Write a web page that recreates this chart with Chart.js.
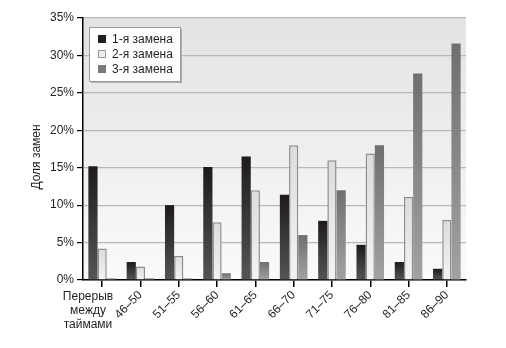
<!DOCTYPE html>
<html>
<head>
<meta charset="utf-8">
<script src="https://cdn.jsdelivr.net/npm/chart.js@4"></script>
<style>
  html, body { margin: 0; padding: 0; background: #fff; }
  #wrap { width: 506px; height: 348px; }
</style>
</head>
<body>
<div id="wrap"><canvas id="subsChart" width="506" height="348"></canvas></div>
<script>
const categories = ['Перерыв между таймами', '46–50', '51–55', '56–60', '61–65', '66–70', '71–75', '76–80', '81–85', '86–90'];
const firstSub  = [15.2, 2.4, 10.0, 15.1, 16.5, 11.4, 7.9, 4.7, 2.4, 1.5];
const secondSub = [4.2, 1.8, 3.2, 7.7, 12.0, 18.0, 16.0, 16.9, 11.1, 8.0];
const thirdSub  = [0.2, 0.2, 0.2, 0.9, 2.4, 6.0, 12.0, 18.0, 27.6, 31.6];
const seriesNames = ['1-я замена', '2-я замена', '3-я замена'];
const yTicks = [0, 5, 10, 15, 20, 25, 30, 35];

const FONT = 'Liberation Sans, Arial, sans-serif';
const TEXT = '#231f20';

function barFill(top, bottom) {
    return function (ctx) {
        const chart = ctx.chart;
        const y = chart.scales.y;
        if (ctx.type !== 'data' || !y || !chart.chartArea) return top;
        const y0 = y.getPixelForValue(ctx.raw);
        const y1 = y.getPixelForValue(0);
        if (y1 - y0 < 1) return bottom;
        const g = chart.ctx.createLinearGradient(0, y0, 0, y1);
        g.addColorStop(0, top);
        g.addColorStop(1, bottom);
        return g;
    };
}

const decor = {
    id: 'decor',
    beforeDraw(chart) {
        const { ctx, chartArea: a } = chart;
        const g = ctx.createLinearGradient(0, a.top, 0, a.bottom);
        g.addColorStop(0, '#e3e3e5');
        g.addColorStop(1, '#fafafa');
        ctx.save();
        ctx.fillStyle = g;
        ctx.fillRect(a.left, a.top, a.right - a.left, a.bottom - a.top);
        ctx.restore();
    },
    afterDraw(chart) {
        const { ctx } = chart;
        ctx.save();
        ctx.fillStyle = TEXT;
        ctx.font = '12px ' + FONT;
        ctx.textAlign = 'center';
        ctx.textBaseline = 'middle';
        // first category label, horizontal and split over three lines
        ['Перерыв', 'между', 'таймами'].forEach((s, i) => ctx.fillText(s, 88, 297 + i * 14));

        // y axis title
        ctx.save();
        ctx.translate(37, 157);
        ctx.rotate(-Math.PI / 2);
        ctx.fillText('Доля замен', 0, 0);
        ctx.restore();

        // legend box inside the plot
        const bx = 89, by = 27, bw = 91, bh = 54;
        ctx.fillStyle = '#b0b0b0';
        ctx.fillRect(bx + 2, by + 2, bw, bh);
        ctx.fillStyle = '#fff';
        ctx.fillRect(bx, by, bw, bh);
        ctx.strokeStyle = '#9a9a9a';
        ctx.lineWidth = 1;
        ctx.strokeRect(bx + 0.5, by + 0.5, bw, bh);
        const swatch = ['#231f20', '#eeeeee', '#7a7a7a'];
        ctx.textAlign = 'left';
        seriesNames.forEach((name, i) => {
            const cy = by + 12 + i * 15;
            ctx.fillStyle = swatch[i];
            ctx.fillRect(bx + 9, cy - 4, 8, 8);
            if (i === 1) {
                ctx.strokeStyle = '#999';
                ctx.strokeRect(bx + 9.5, cy - 3.5, 7, 7);
            }
            ctx.fillStyle = TEXT;
            ctx.fillText(name, bx + 23, cy + 1);
        });
        ctx.restore();
    }
};

new Chart(document.getElementById('subsChart'), {
    type: 'bar',
    data: {
        labels: categories,
        datasets: [
            { label: seriesNames[0], data: firstSub, backgroundColor: barFill('#1f1b1c', '#555555'),
              borderWidth: 0 },
            { label: seriesNames[1], data: secondSub, backgroundColor: barFill('#dcdcdc', '#f3f3f3'),
              borderColor: '#8e8e8e', borderWidth: 1.5 },
            { label: seriesNames[2], data: thirdSub, backgroundColor: barFill('#6f6f6f', '#a2a2a2'),
              borderWidth: 0 }
        ]
    },
    options: {
        responsive: false,
        animation: false,
        layout: { padding: { top: 18, right: 40, bottom: 0, left: 0 } },
        datasets: { bar: { categoryPercentage: 0.72, barPercentage: 1 } },
        plugins: { legend: { display: false }, tooltip: { enabled: false } },
        scales: {
            x: {
                afterFit(s) { s.height = 68; },
                grid: { drawOnChartArea: false, offset: false, tickLength: 7, tickColor: '#000', lineWidth: 1.5 },
                border: { color: '#000', width: 1.5 },
                ticks: {
                    autoSkip: false, minRotation: 45, maxRotation: 45, padding: 1,
                    color: TEXT, font: { family: FONT, size: 12 },
                    callback(v, i) { return i === 0 ? '' : categories[i]; }
                }
            },
            y: {
                min: 0, max: 35,
                afterFit(s) { s.width = 83; },
                afterBuildTicks(s) { s.ticks = yTicks.map(v => ({ value: v })); },
                grid: { color: '#b8b8b8', lineWidth: 1.2, tickColor: '#000', tickLength: 6 },
                border: { color: '#000', width: 1.5 },
                ticks: {
                    padding: 3, color: TEXT, font: { family: FONT, size: 12 },
                    callback: v => v + '%'
                }
            }
        }
    },
    plugins: [decor]
});
</script>
</body>
</html>
